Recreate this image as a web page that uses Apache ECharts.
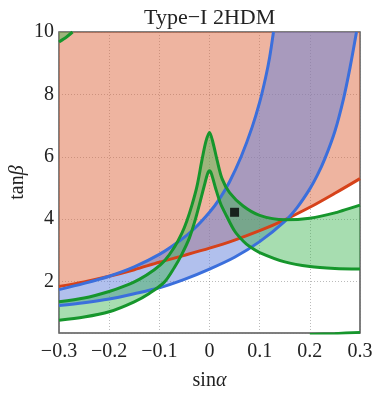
<!DOCTYPE html>
<html>
<head>
<meta charset="utf-8">
<script src="https://cdn.jsdelivr.net/npm/echarts@6/dist/echarts.min.js"></script>
<style>
html, body { margin: 0; padding: 0; background: #fff; }
#chart { width: 374px; height: 394px; }
</style>
</head>
<body>
<div id="chart"></div>
<script>
// x = sin(alpha), y = tan(beta)
const redLine = [[-0.3, 1.84], [-0.25, 1.99], [-0.2, 2.17], [-0.15, 2.38], [-0.1, 2.62], [-0.05, 2.84],
  [0, 3.07], [0.05, 3.33], [0.1, 3.63], [0.15, 3.98], [0.2, 4.38], [0.25, 4.83], [0.3, 5.3]];

const blueUpper = [[-0.3, 1.74], [-0.25, 1.94], [-0.2, 2.17], [-0.15, 2.47], [-0.1, 2.87], [-0.06, 3.3],
  [-0.03, 3.7], [0, 4.22], [0.02, 4.65], [0.04, 5.2], [0.063, 6.0], [0.085, 6.95], [0.1, 7.75],
  [0.112, 8.55], [0.12, 9.2], [0.1275, 10]];

const blueLower = [[-0.3, 1.23], [-0.25, 1.32], [-0.2, 1.44], [-0.15, 1.61], [-0.1, 1.8], [-0.05, 2.07],
  [0, 2.4], [0.05, 2.78], [0.1, 3.28], [0.15, 3.93], [0.175, 4.38], [0.2, 4.97], [0.215, 5.41],
  [0.23, 5.94], [0.25, 6.82], [0.267, 7.85], [0.28, 8.85], [0.293, 10]];

const greenOuter = [[-0.3, 1.35], [-0.25, 1.47], [-0.2, 1.68], [-0.17, 1.85], [-0.14, 2.07], [-0.11, 2.38],
  [-0.09, 2.66], [-0.07, 3.1], [-0.055, 3.55], [-0.045, 3.95], [-0.035, 4.45], [-0.025, 5.05],
  [-0.015, 5.9], [-0.007, 6.5], [0, 6.78], [0.007, 6.45], [0.015, 5.9], [0.025, 5.3], [0.04, 4.85],
  [0.067, 4.42], [0.1, 4.12], [0.15, 3.98], [0.2, 4.03], [0.25, 4.2], [0.3, 4.45]];

const greenInner = [[-0.3, 0.76], [-0.25, 0.86], [-0.2, 1.03], [-0.15, 1.35], [-0.12, 1.62], [-0.09, 1.98],
  [-0.07, 2.45], [-0.055, 2.88], [-0.04, 3.4], [-0.028, 4.0], [-0.018, 4.6], [-0.01, 5.1],
  [-0.004, 5.45], [0, 5.55], [0.004, 5.45], [0.012, 5.0], [0.022, 4.5], [0.034, 4.1], [0.05, 3.62],
  [0.067, 3.3], [0.08, 3.12], [0.1, 2.93], [0.15, 2.63], [0.2, 2.48], [0.25, 2.42], [0.3, 2.4]];

const greenCorner = [[-0.3, 9.68], [-0.285, 9.84], [-0.273, 10]];
const greenBottom = [[0.2, 0.3], [0.25, 0.33], [0.3, 0.37]];

const benchmark = [[0.05, 4.22]];

const serif = '"Liberation Serif", "Times New Roman", serif';

function area(points, color) {
  return {
    type: 'custom',
    clip: true,
    silent: true,
    data: [points[0]],
    renderItem: function (params, api) {
      return {
        type: 'polygon',
        shape: { points: points.map(function (p) { return api.coord(p); }) },
        style: { fill: color }
      };
    }
  };
}

function curve(points, color) {
  return {
    type: 'line',
    data: points,
    smooth: 0.3,
    showSymbol: false,
    silent: true,
    clip: true,
    lineStyle: { color: color, width: 3 }
  };
}

const RED = '#d6421a', BLUE = '#3b6fdc', GREEN = '#16962c';

let chart = echarts.init(document.getElementById('chart'));
chart.setOption({
  animation: false,
  title: {
    text: 'Type\u2212I 2HDM',
    left: 139,
    top: 2,
    textStyle: { fontFamily: serif, fontSize: 22, fontWeight: 'normal', color: '#222' }
  },
  grid: {
    left: 59, right: 14, top: 32, bottom: 61,
    show: true, borderColor: '#555', borderWidth: 1.5,
    outerBoundsMode: 'none'
  },
  xAxis: {
    type: 'value',
    min: -0.3, max: 0.3, interval: 0.1,
    name: 'sin{a|α}',
    nameLocation: 'middle',
    nameGap: 38,
    nameMoveOverlap: false,
    nameTextStyle: {
      fontFamily: serif, fontSize: 20, color: '#222',
      rich: { a: { fontFamily: serif, fontSize: 20, fontStyle: 'italic', color: '#222' } }
    },
    axisLine: { show: false },
    axisTick: { show: false },
    axisLabel: {
      margin: 9,
      fontFamily: serif, fontSize: 20, color: '#222',
      formatter: function (v) {
        if (Math.abs(v) < 1e-9) return '0';
        return (v < 0 ? '\u2212' : '') + Math.abs(v).toFixed(1);
      }
    },
    splitLine: { show: true, lineStyle: { color: 'rgba(120,120,120,0.5)', type: [1, 2], width: 1 } }
  },
  yAxis: {
    type: 'value',
    min: 0.35, max: 10, splitNumber: 5,
    name: 'tan{b|β}',
    nameLocation: 'middle',
    nameGap: 31,
    nameMoveOverlap: false,
    nameTextStyle: {
      fontFamily: serif, fontSize: 20, color: '#222',
      rich: { b: { fontFamily: serif, fontSize: 20, fontStyle: 'italic', color: '#222' } }
    },
    axisLine: { show: false },
    axisTick: { show: false },
    axisLabel: {
      margin: 5, showMinLabel: false,
      fontFamily: serif, fontSize: 20, color: '#222'
    },
    splitLine: { show: true, lineStyle: { color: 'rgba(120,120,120,0.5)', type: [1, 2], width: 1 } }
  },
  series: [
    area(redLine.concat([[0.3, 10], [-0.3, 10]]), 'rgba(222,105,65,0.5)'),
    area(blueUpper.concat(blueLower.slice().reverse()), 'rgba(100,130,220,0.5)'),
    area(greenOuter.concat(greenInner.slice().reverse()), 'rgba(60,180,80,0.45)'),
    area(greenCorner.concat([[-0.3, 10]]), 'rgba(60,180,80,0.45)'),
    area(greenBottom.concat([[0.3, 0.3]]), 'rgba(60,180,80,0.45)'),
    curve(redLine, RED),
    curve(blueUpper, BLUE),
    curve(blueLower, BLUE),
    curve(greenOuter, GREEN),
    curve(greenInner, GREEN),
    curve(greenCorner, GREEN),
    curve(greenBottom, GREEN),
    {
      type: 'scatter',
      data: benchmark,
      symbol: 'rect',
      symbolSize: 9,
      silent: true,
      itemStyle: { color: '#000' }
    }
  ]
});
</script>
</body>
</html>
